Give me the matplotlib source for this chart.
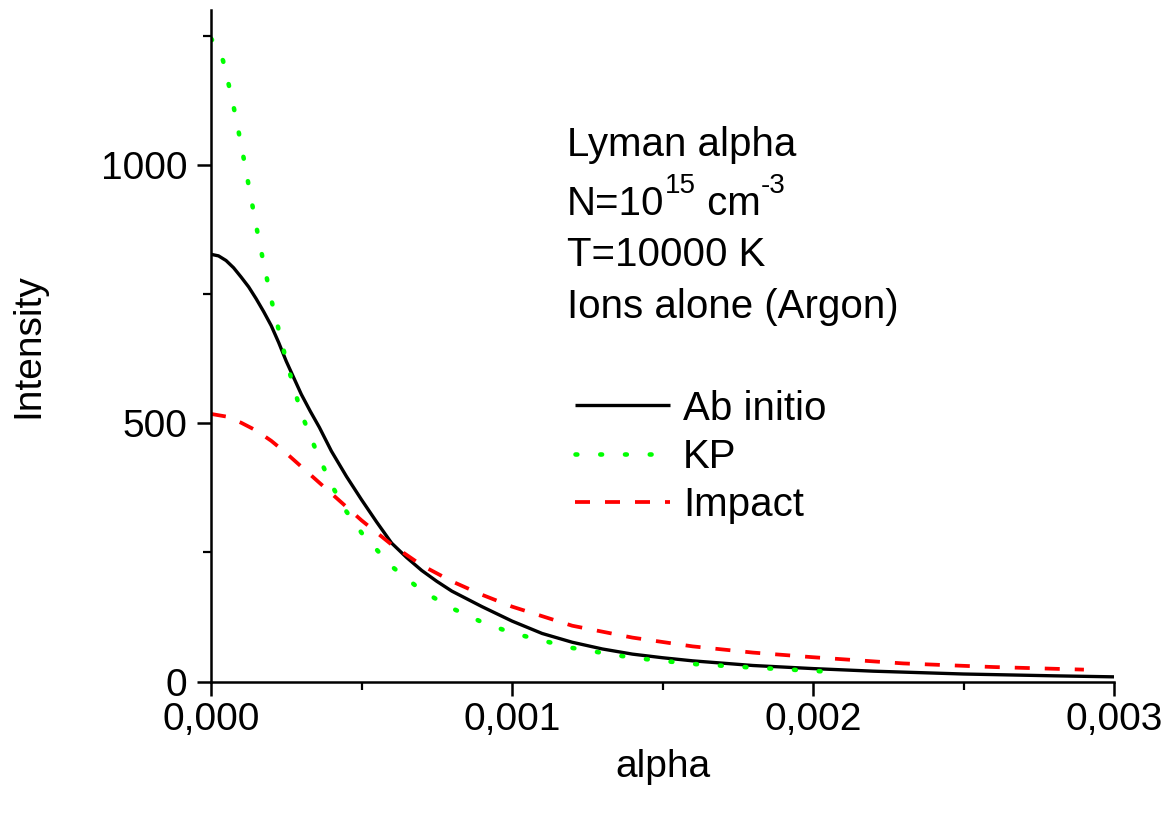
import matplotlib
matplotlib.use("Agg")
import matplotlib.pyplot as plt
from matplotlib.ticker import MultipleLocator, FuncFormatter

plt.rcParams['font.family'] = ['Liberation Sans', 'DejaVu Sans']

# ---- data ----
ab_x = [0, 0.000025, 0.00005, 0.000075, 0.0001, 0.000125, 0.00015, 0.000175, 0.0002,
        0.000225, 0.00025, 0.000275, 0.0003, 0.00033, 0.00036, 0.0004, 0.00045, 0.0005,
        0.00055, 0.0006, 0.00065, 0.0007, 0.00075, 0.0008, 0.0009, 0.001, 0.0011, 0.0012,
        0.0013, 0.0014, 0.0015, 0.0016, 0.0018, 0.002, 0.0022, 0.0025, 0.0028, 0.003]
ab_y = [827, 824, 815, 801, 783, 764, 741, 716, 689,
        656, 620, 588, 556, 523, 492, 446, 397, 352,
        309, 268, 240, 215, 194, 175, 145, 117, 93, 76,
        63, 53, 46, 40, 31, 25, 20, 14.5, 11, 9]

kp_x = [0, 0.00002, 0.00004, 0.00007, 0.0001, 0.00013, 0.00016, 0.0002, 0.00025, 0.0003,
        0.00035, 0.0004, 0.00045, 0.0005, 0.0006, 0.0007, 0.0008, 0.0009, 0.001,
        0.0012, 0.0014, 0.0016, 0.0018, 0.00205]
kp_y = [1245, 1228, 1202, 1128, 1040, 945, 852, 740, 621, 519,
        446, 381, 329, 288, 223, 176, 142, 115, 94,
        65, 46, 34, 27, 19]

imp_x = [0, 0.00005, 0.0001, 0.00015, 0.0002, 0.00025, 0.0003, 0.0004, 0.0005, 0.0006,
         0.0007, 0.0008, 0.0009, 0.001, 0.0012, 0.0014, 0.0016, 0.0018, 0.002, 0.0023,
         0.0026, 0.0029]
imp_y = [518, 513, 501, 486, 466, 442, 416, 364, 312, 265,
         225, 194, 168, 145, 108, 85, 68, 56, 47, 35,
         28, 23]

labels = ["Ab initio", "KP", "Impact"]
info_lines = ["Lyman alpha", None, "T=10000 K", "Ions alone (Argon)"]
n_parts = [("N=10", False), ("15", True), (" cm", False), ("-3", True)]

W, H = 1176, 813
fig = plt.figure(figsize=(W / 100, H / 100), dpi=100)
ax = fig.add_axes([211 / W, 1 - 681.5 / H, (1114 - 211) / W, (681.5 - 10) / H])

ax.plot(ab_x, ab_y, color='black', lw=2.4, solid_capstyle='butt', label=labels[0])
ax.plot(kp_x, kp_y, color='#00ff00', lw=3.3, linestyle=(0, (0.4, 5.0)),
        dash_capstyle='round', label=labels[1])
ax.plot(imp_x, imp_y, color='#ff0000', lw=2.7, linestyle=(0, (4.0, 4.0)),
        dash_capstyle='butt', label=labels[2])

ax.set_xlim(0, 0.003)
ax.set_ylim(0, 1300)

for s in ['top', 'right']:
    ax.spines[s].set_visible(False)
for s in ['left', 'bottom']:
    ax.spines[s].set_linewidth(1.8)

ax.xaxis.set_major_locator(MultipleLocator(0.001))
ax.xaxis.set_minor_locator(MultipleLocator(0.0005))
ax.yaxis.set_major_locator(MultipleLocator(500))
ax.yaxis.set_minor_locator(MultipleLocator(250))
ax.xaxis.set_major_formatter(FuncFormatter(lambda v, p: f"{v:.3f}".replace('.', ',')))

ax.tick_params(which='major', direction='out', length=10, width=1.8, labelsize=28)
ax.tick_params(which='minor', direction='out', length=5.5, width=1.6)
ax.tick_params(axis='y', which='major', pad=7)
ax.tick_params(axis='x', which='major', pad=5)

ax.set_xlabel("alpha", fontsize=28)
ax.set_ylabel("Intensity", fontsize=28)
ax.xaxis.set_label_coords(0.5, -0.10)
ax.yaxis.set_label_coords(-0.182, 0.5)

# annotation block
FS = 29
ys = [156, 215, 266.5, 318]
for t, yb in zip(info_lines, ys):
    if t is not None:
        fig.text(567 / W, 1 - yb / H, t, fontsize=FS, ha='left', va='baseline')

# N=10^15 cm^-3 line built from pieces
fig.canvas.draw()
renderer = fig.canvas.get_renderer()
xpix = 567.0
yb = 215
for txt, sup in n_parts:
    if sup:
        t = fig.text(xpix / W, 1 - (yb - 22) / H, txt, fontsize=20, ha='left', va='baseline')
    else:
        t = fig.text(xpix / W, 1 - yb / H, txt, fontsize=FS, ha='left', va='baseline')
    bb = t.get_window_extent(renderer)
    xpix += bb.width

leg = ax.legend(loc='center left', bbox_to_anchor=(575 / W, 1 - 457 / H),
                bbox_transform=fig.transFigure, frameon=False, fontsize=29,
                handlelength=2.35, handletextpad=0.33, labelspacing=0.26,
                borderpad=0, borderaxespad=0)

fig.savefig("out.png", dpi=100)
